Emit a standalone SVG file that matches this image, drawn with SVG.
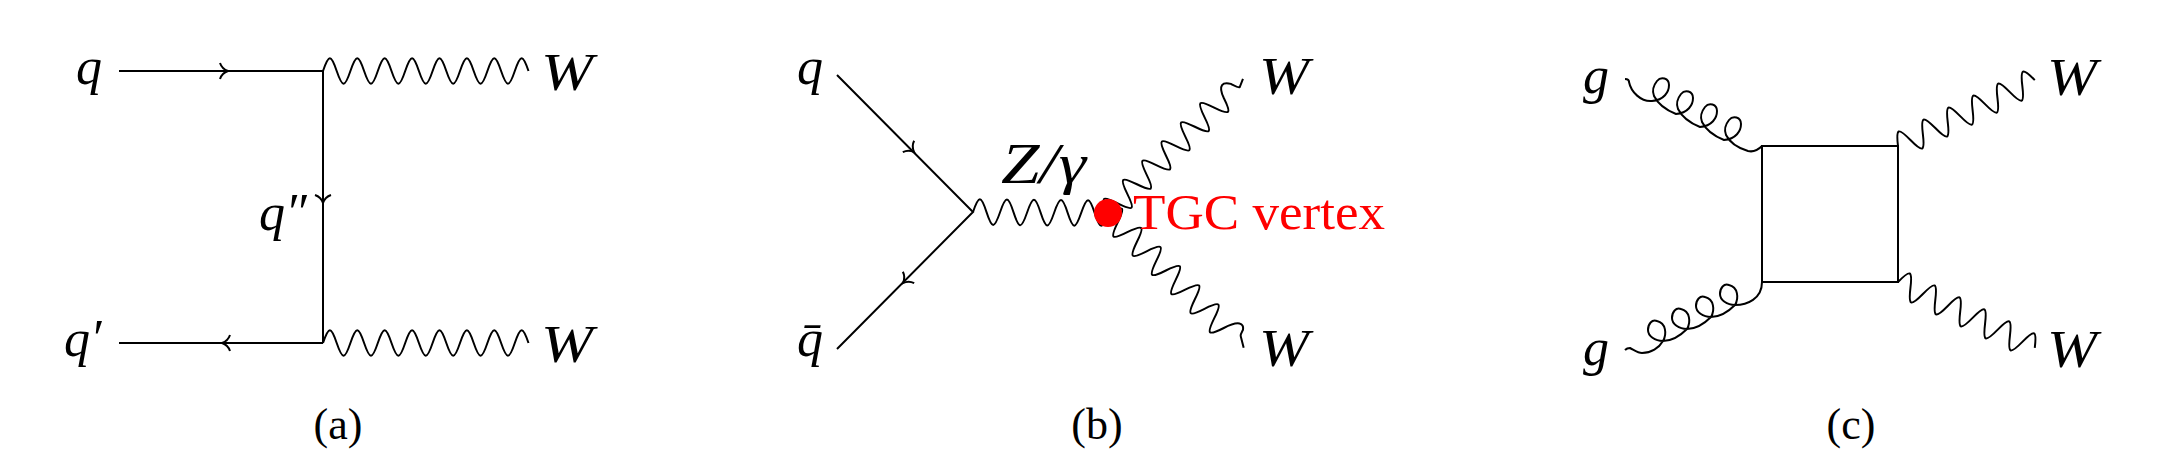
<svg xmlns="http://www.w3.org/2000/svg" xmlns:xlink="http://www.w3.org/1999/xlink" width="2162" height="468" viewBox="0 0 2162 468">
<style>
text{font-family:"Liberation Serif","Times New Roman",serif;fill:#000}
.m{font-style:italic;font-size:52px}
.cap{font-size:44px;text-anchor:middle}
.l,.l use{fill:none;stroke:#000;stroke-width:2}
.l path,.l line,.l rect{fill:none;stroke:#000}
.red{fill:#f00}
</style>
<defs>
<path id="w10" d="M0 0c5.8-17 8-17 13.8 0 5.8 17 8 17 13.8 0 5.8-17 8-17 13.8 0 5.8 17 8 17 13.8 0 5.8-17 8-17 13.8 0 5.8 17 8 17 13.8 0 5.8-17 8-17 13.8 0 5.8 17 8 17 13.8 0 5.8-17 8-17 13.8 0 5.8 17 8 17 13.8 0"/>
<path id="w11" d="M0 0c5.8-17 8-17 13.8 0 5.8 17 8 17 13.8 0 5.8-17 8-17 13.8 0 5.8 17 8 17 13.8 0 5.8-17 8-17 13.8 0 5.8 17 8 17 13.8 0 5.8-17 8-17 13.8 0 5.8 17 8 17 13.8 0 5.8-17 8-17 13.8 0 5.8 17 8 17 13.8 0 5.8-17 8-17 13.8 0"/>
<path id="w14u" d="M0 0c5.8-17 8-17 13.6 0 5.8 17 8 17 13.6 0 5.8-17 8-17 13.6 0 5.8 17 8 17 13.6 0 5.8-17 8-17 13.6 0 5.8 17 8 17 13.6 0 5.8-17 8-17 13.6 0 5.8 17 8 17 13.6 0 5.8-17 8-17 13.6 0 5.8 17 8 17 13.6 0 5.8-17 8-17 13.6 0 5.8 17 8 17 13.6 0c5-14 11-12 15-5c1 3 2 8 4 8.5l8-3.5"/>
<path id="w14d" d="M0 0c5.8-17 8-17 13.6 0 5.8 17 8 17 13.6 0 5.8-17 8-17 13.6 0 5.8 17 8 17 13.6 0 5.8-17 8-17 13.6 0 5.8 17 8 17 13.6 0 5.8-17 8-17 13.6 0 5.8 17 8 17 13.6 0 5.8-17 8-17 13.6 0 5.8 17 8 17 13.6 0 5.8-17 8-17 13.6 0 5.8 17 8 17 13.6 0c5-16 11-18 15-12c1 3 1 5 3 6l10 6"/>
<path id="w15" d="M0 0c5.8-17 8-17 13.7 0 5.8 17 8 17 13.7 0 5.8-17 8-17 13.7 0 5.8 17 8 17 13.7 0 5.8-17 8-17 13.7 0 5.8 17 8 17 13.7 0 5.8-17 8-17 13.7 0 5.8 17 8 17 13.7 0 5.8-17 8-17 13.7 0 5.8 17 8 17 13.7 0 5.8-17 8-17 13.7 0 5.8 17 8 17 13.7 0 5.8-17 8-17 13.7 0 5.8 17 8 17 13.7 0 5.8-17 8-17 13.7 0"/>
<path id="ah" d="M-5-8Q-3-2 3 0Q-3 2-5 8"/>
</defs>
<g id="connectors" class="l">
<path d="M119 71H323"/><path d="M323 71V343"/><path d="M323 343H119"/>
<use href="#w15" transform="translate(323,71)"/>
<use href="#w15" transform="translate(323,343)"/>
<use href="#ah" transform="translate(225,71)"/>
<use href="#ah" transform="translate(323,200) rotate(90)"/>
<use href="#ah" transform="translate(225,343) rotate(180)"/>
<path d="M837 75L973 212L837 349"/>
<use href="#ah" transform="translate(912,150) rotate(45)"/>
<use href="#ah" transform="translate(905,281) rotate(135)"/>
<use href="#w10" transform="translate(973,212) rotate(0.5) scale(0.98,1)"/>
<use href="#w14u" transform="translate(1108,213) rotate(-44.8)"/>
<use href="#w14d" transform="translate(1108,213) rotate(44.8)"/>
<rect x="1762" y="146" width="136" height="136"/>
<path d="M1625 79c2 0 4 1 4 3c2 10 12 20 23 19c12-1 17-9 17-16c0-7-8-9-12-4c-4 5-5 10-3 15c4 8 12 14 22 18c12-1 17-9 17-16c0-7-8-9-12-4c-4 5-5 10-3 15c4 8 12 14 22 18c12-1 17-9 17-16c0-7-8-9-12-4c-4 5-5 10-3 15c4 8 12 14 22 18c12-1 17-9 17-16c0-7-8-9-12-4c-4 5-5 10-3 15c4 8 12 13 22 16c4 1 9 0 14-5"/>
<path d="M1625 350c2-2 4-2 5-2c4 2 8 5 12 5c9 0 17-5 21-12c4-7 3-18-6-20c-5-2-9 3-9 9c0 6 7 11 15 11c8 0 17-5 24-12c4-7 3-18-6-20c-5-2-9 3-9 9c0 6 7 11 15 11c8 0 17-5 24-12c4-7 3-18-6-20c-5-2-9 3-9 9c0 6 7 11 15 11c8 0 17-5 24-12c4-7 3-18-6-20c-5-2-9 3-9 9c0 6 7 11 15 11c12 0 27-6 27-23"/>
<use href="#w11" transform="translate(1898,146) rotate(-25.7)"/>
<use href="#w11" transform="translate(1898,282) rotate(25.7)"/>
</g>
<g id="node-a-q"><text class="m" x="76" y="84">q</text></g>
<g id="node-a-q1"><text class="m" x="64" y="356">q′</text></g>
<g id="node-a-q2"><text class="m" x="259" y="230">q″</text></g>
<g id="node-a-w1"><text class="m" x="541" y="90" textLength="52" lengthAdjust="spacingAndGlyphs">W</text></g>
<g id="node-a-w2"><text class="m" x="541" y="362" textLength="52" lengthAdjust="spacingAndGlyphs">W</text></g>
<g id="caption-a"><text class="cap" x="338" y="439">(a)</text></g>
<g id="node-b-q"><text class="m" x="797" y="84">q</text></g>
<g id="node-b-qbar"><text class="m" x="797" y="356">q̄</text></g>
<g id="node-b-w1"><text class="m" x="1259" y="94" textLength="50" lengthAdjust="spacingAndGlyphs">W</text></g>
<g id="node-b-w2"><text class="m" x="1259" y="366" textLength="50" lengthAdjust="spacingAndGlyphs">W</text></g>
<g id="node-b-z"><text x="1001" y="183" font-size="56" font-style="italic" textLength="85" lengthAdjust="spacingAndGlyphs">Z/γ</text></g>
<g id="node-b-tgc"><circle class="red" cx="1108" cy="213" r="14"/><text class="red" x="1133" y="229" font-size="51" textLength="252" lengthAdjust="spacingAndGlyphs">TGC vertex</text></g>
<g id="caption-b"><text class="cap" x="1097" y="439">(b)</text></g>
<g id="node-c-g1"><text class="m" x="1583" y="93">g</text></g>
<g id="node-c-g2"><text class="m" x="1583" y="365">g</text></g>
<g id="node-c-w1"><text class="m" x="2047" y="95" textLength="50" lengthAdjust="spacingAndGlyphs">W</text></g>
<g id="node-c-w2"><text class="m" x="2047" y="367" textLength="50" lengthAdjust="spacingAndGlyphs">W</text></g>
<g id="caption-c"><text class="cap" x="1851" y="439">(c)</text></g>
</svg>
